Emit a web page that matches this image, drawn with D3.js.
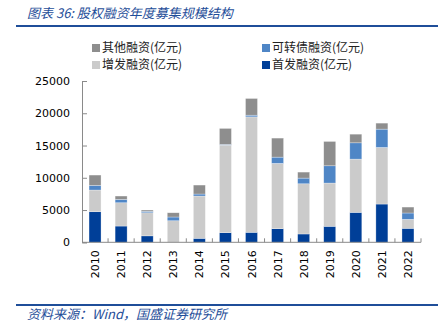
<!DOCTYPE html>
<html><head><meta charset="utf-8">
<script src="https://cdn.jsdelivr.net/npm/d3@7"></script>
<style>body{margin:0;background:#fff}svg{display:block}</style>
</head><body><svg id="c" width="448" height="334"></svg>
<script>
const years = ["2010","2011","2012","2013","2014","2015","2016","2017","2018","2019","2020","2021","2022"];
const ipo = [4740,2520,1000,0,620,1490,1550,2110,1290,2480,4640,5930,2170];
const seo = [3360,3610,3580,3340,6550,13570,17890,10120,7780,6700,8250,8770,1390];
const convertible = [720,520,220,580,310,110,260,970,880,2680,2530,2840,980];
const other = [1600,520,200,660,1390,2480,2590,2950,930,3770,1340,930,920];
const seriesNames = ["首发融资(亿元)","增发融资(亿元)","可转债融资(亿元)","其他融资(亿元)"];
const seriesColors = ["#003f98","#cbcbcb","#4f86c6","#8e8e8e"];
const yTicks = [0,5000,10000,15000,20000,25000];

const svg = d3.select("#c");
const blue = "#1f4e99";
// title
svg.append("text").attr("x",27).attr("y",18).attr("fill",blue)
  .attr("font-family","'Noto Sans CJK SC'").attr("font-style","italic").attr("font-size",13)
  .text("图表 36:  股权融资年度募集规模结构");
svg.append("line").attr("x1",16).attr("x2",438).attr("y1",26).attr("y2",26).attr("stroke",blue).attr("stroke-width",2);
svg.append("line").attr("x1",16).attr("x2",438).attr("y1",305).attr("y2",305).attr("stroke",blue).attr("stroke-width",2);
svg.append("text").attr("x",27).attr("y",319).attr("fill",blue)
  .attr("font-family","'Noto Sans CJK SC'").attr("font-style","italic").attr("font-size",13)
  .text("资料来源：Wind，国盛证券研究所");

const x = d3.scaleBand().domain(years).range([82,421]).paddingInner(0.54).paddingOuter(0.27);
const y = d3.scaleLinear().domain([0,25000]).range([242.3,81]);

const table = years.map((yr,i)=>({year:yr, s0:ipo[i], s1:seo[i], s2:convertible[i], s3:other[i]}));
const stack = d3.stack().keys(["s0","s1","s2","s3"])(table);

svg.append("g").selectAll("g").data(stack).join("g").attr("fill",(d,i)=>seriesColors[i])
  .selectAll("rect").data(d=>d).join("rect")
  .attr("x",d=>x(d.data.year)).attr("width",x.bandwidth())
  .attr("y",d=>y(d[1])).attr("height",d=>Math.max(0,y(d[0])-y(d[1])))
  .attr("stroke","#fff").attr("stroke-opacity",0.5).attr("stroke-width",0.6);

const axisColor = "#8a8a8a";
const gy = svg.append("g").attr("transform","translate(82,0)")
  .call(d3.axisLeft(y).tickValues(yTicks).tickSize(-5).tickPadding(12).tickFormat(d3.format("d")));
gy.select(".domain").attr("stroke",axisColor);
gy.selectAll(".tick line").attr("stroke",axisColor);
gy.selectAll("text").attr("font-family","'DejaVu Sans'").attr("font-size",11).attr("fill","#000");

const xb = d3.scaleLinear().domain([0,years.length]).range([82,421]);
const gx = svg.append("g").attr("transform","translate(0,242.3)");
gx.append("line").attr("x1",82).attr("x2",421).attr("stroke",axisColor);
gx.selectAll("line.t").data(d3.range(1,years.length+1)).join("line").attr("class","t")
  .attr("x1",d=>xb(d)).attr("x2",d=>xb(d)).attr("y1",0).attr("y2",-4).attr("stroke",axisColor);
gx.selectAll("text").data(years).join("text")
  .attr("transform",d=>`translate(${x(d)+x.bandwidth()/2+4},8) rotate(-90)`)
  .attr("text-anchor","end").attr("font-family","'DejaVu Sans'").attr("font-size",11).attr("fill","#000")
  .text(d=>d);

// legend
const legendItems = [
  {i:3, col:0, row:0},{i:2, col:1, row:0},{i:1, col:0, row:1},{i:0, col:1, row:1}
];
const lg = svg.append("g");
legendItems.forEach(it=>{
  const lx = it.col===0?92:262, ly = it.row===0?48:65;
  lg.append("rect").attr("x",lx).attr("y",ly-4).attr("width",8).attr("height",8).attr("fill",seriesColors[it.i]);
  lg.append("text").attr("x",lx+10).attr("y",ly+4.3).attr("font-family","'Noto Sans CJK SC'").attr("font-size",12)
    .attr("fill","#222").text(seriesNames[it.i]);
});
</script></body></html>
